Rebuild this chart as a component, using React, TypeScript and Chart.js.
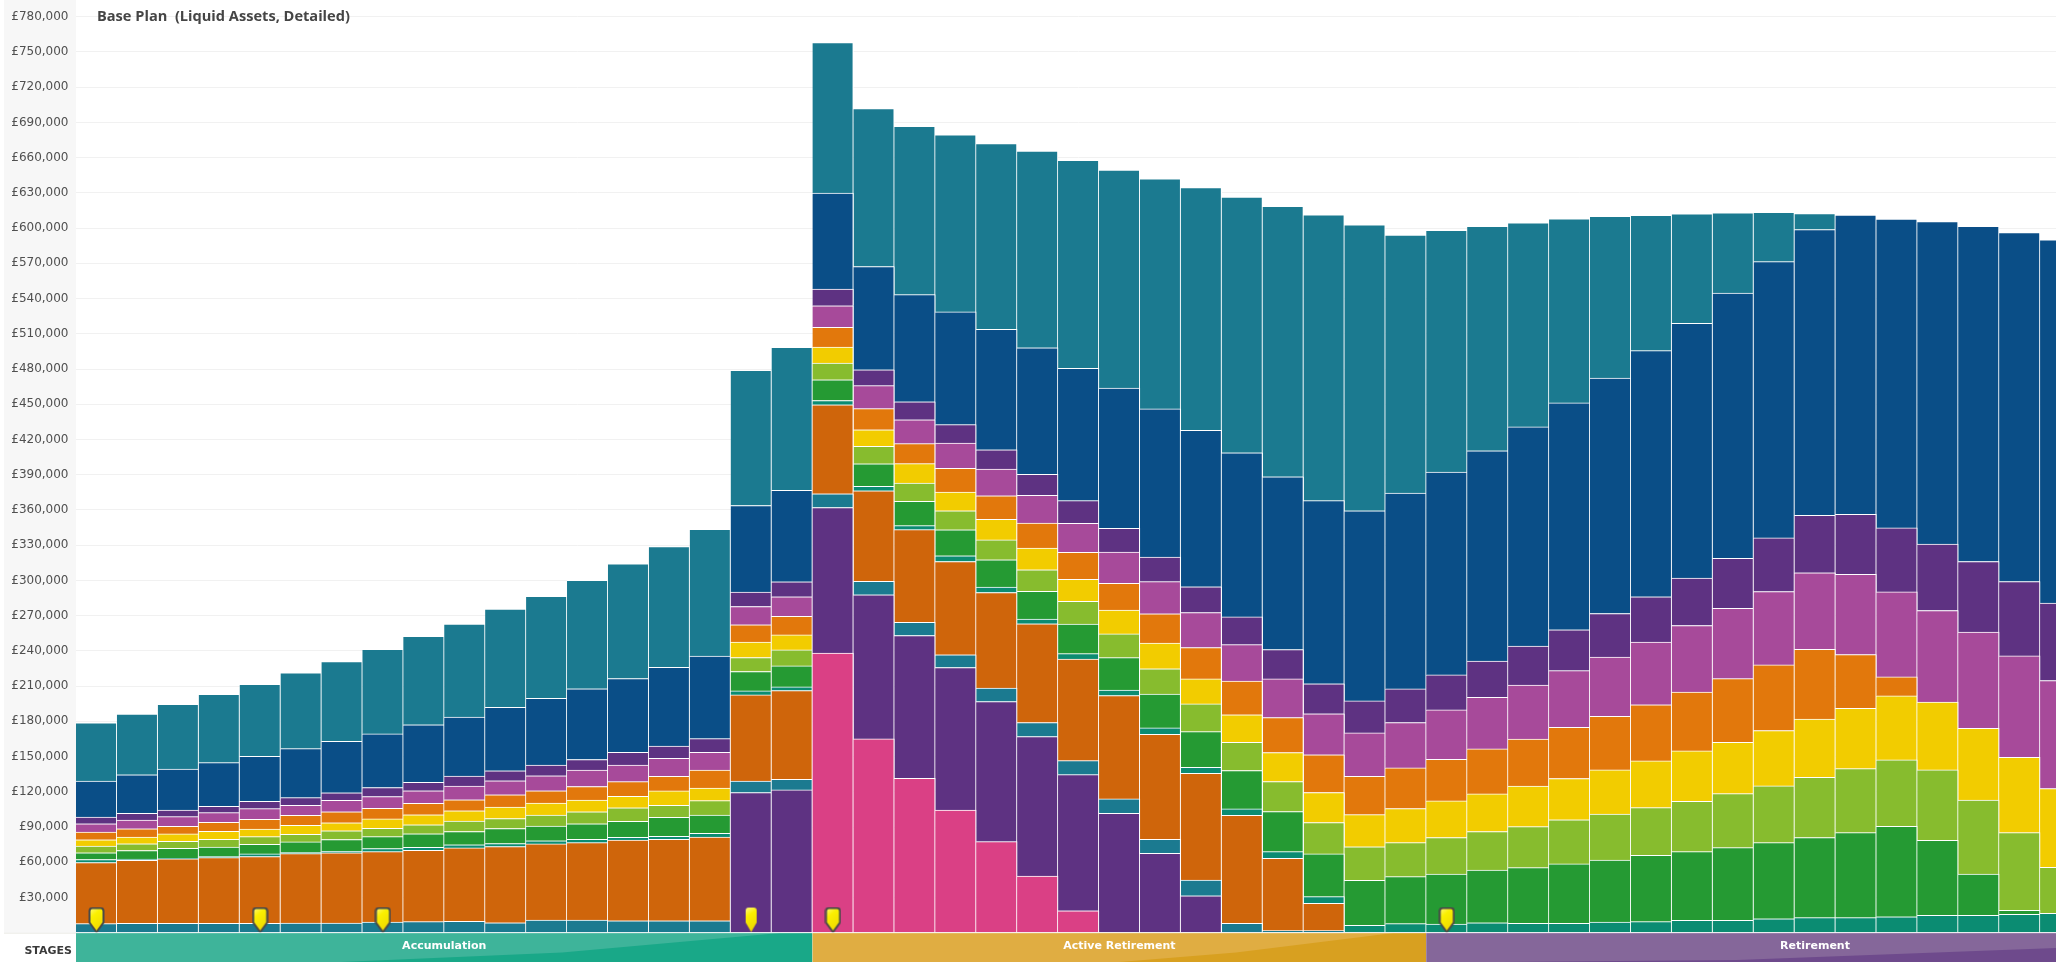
import React, { useEffect, useRef } from "react";
import { Chart, registerables } from "chart.js";

Chart.register(...registerables);

const categories = Array.from({ length: 49 }, (_, i) => String(2015 + i));

const pinkFund = [0,0,0,0,0,0,0,0,0,0,0,0,0,0,0,0,0,0,238000,165000,131500,104500,77500,48300,18700,0,0,0,0,0,0,0,0,0,0,0,0,0,0,0,0,0,0,0,0,0,0,0,0];
const purpleLower = [0,0,0,0,0,0,0,0,0,0,0,0,0,0,0,0,119300,121600,124100,122700,121600,121300,119300,118700,115900,101700,67600,31500,0,0,0,0,0,0,0,0,0,0,0,0,0,0,0,0,0,0,0,0,0];
const tealLower = [7700,8000,8000,8000,8000,8200,8200,9100,9400,9700,8500,10800,10800,10200,10200,10200,9900,9100,11600,11400,11100,10800,11400,11900,11900,12200,11900,13300,8000,1700,1700,0,0,0,0,0,0,0,0,0,0,0,0,0,0,0,0,0,0];
const burntOrange = [52000,53700,54800,55900,56800,59100,59900,59900,60800,62500,64800,64800,65900,68700,69300,71300,73300,75500,75800,77200,79000,79500,81500,84100,86600,88000,89500,90900,92000,61600,23300,0,0,0,0,0,0,0,0,0,0,0,0,0,0,0,0,0,0];
const seaGreen = [2600,900,600,900,2300,900,1100,2600,2600,2600,2600,2600,2800,2300,2600,3100,3400,3100,3700,3700,3400,4800,4500,4000,4500,4800,5400,5100,5400,5700,5700,6200,7700,7400,8500,8000,8000,9100,9400,10500,10500,11900,12800,12800,13600,14800,14800,15600,16500];
const green = [5700,7400,8500,8200,8200,9100,10200,10200,11400,11400,12800,12500,13300,13600,16200,15600,16500,17900,17600,19300,20700,22200,23300,23600,25300,27500,28700,30400,32700,34100,36400,38300,40000,42600,44900,47400,50600,52800,56500,58500,61900,64800,68200,72400,77000,63900,35200,3400,0];
const lightGreen = [5700,5700,6000,6500,6500,6500,7400,7100,7700,8800,8500,9400,10200,11600,10200,12200,11900,13600,14200,14800,15600,16200,17000,18500,19300,20200,21600,23600,23900,25600,26700,28700,29000,31000,32700,34900,37500,39200,40600,42900,46000,48300,51400,54500,56500,59900,63000,66200,39200];
const yellow = [5400,5700,6200,6800,6500,7700,6800,8000,8500,8800,9700,10200,9900,9700,12200,10800,13100,12800,13600,14200,16500,15900,17600,18500,18700,20400,21900,21300,23600,24700,25600,27300,29000,31200,32100,34600,35200,37500,39800,42900,43700,47100,49400,51400,54500,57700,61100,64200,67000];
const orange = [6500,7100,6500,7700,8200,8500,9400,9100,9700,9400,10500,10500,11600,12500,12500,15300,14800,15900,16800,17900,17000,20200,19900,21300,23000,22700,25000,26700,28700,29800,32100,32700,34600,35500,38300,40000,43500,45700,47700,50000,54200,55900,59400,45700,16200,0,0,0,0];
const magenta = [7100,7400,8200,8200,9100,8500,9700,9900,10800,11600,11900,12800,13900,14200,15300,15100,15600,16500,18500,19600,20400,21600,22700,23600,24700,26700,27300,29800,31000,32900,34900,36900,38600,42000,44000,46000,48300,50300,53400,56800,59900,62500,65300,68400,72400,78100,81800,86300,92000];
const purpleUpper = [5700,5700,5700,5400,6200,6500,6500,7700,7100,8500,8500,9100,9100,10800,10500,11600,12200,12800,14200,13600,15300,15600,16500,17900,19300,20200,21000,21900,23600,25000,25600,27300,28700,29800,30700,33200,34900,37200,38600,40300,42600,45700,48800,51100,54500,56500,60200,63300,65900];
const blue = [30700,32900,34900,37200,38300,41700,43700,45700,49100,50300,54200,56800,60200,62800,67000,70400,73800,77800,81800,87800,91200,96000,102500,107600,112700,119300,126100,133200,139700,147100,155900,161900,166700,172700,179200,186600,193100,200500,209600,217000,225800,235200,243400,254700,263000,274600,285400,297100,309300];
const tealUpper = [49700,51700,55100,58200,61300,64500,67900,72100,75300,79200,83500,86900,92300,97700,102800,107900,115000,121800,128100,134600,143400,150800,158200,167600,177200,185700,196000,206800,217800,230300,243400,243400,219800,205900,191100,173800,156800,137700,115300,93200,68400,42000,13600,0,0,0,0,0,0];

const seriesNames = ["Fund A", "Fund B", "Fund C", "Fund D", "Fund E", "Fund F", "Fund G", "Fund H", "Fund I", "Fund J", "Fund K", "Fund L", "Fund M"];
const seriesValues = [pinkFund, purpleLower, tealLower, burntOrange, seaGreen, green, lightGreen, yellow, orange, magenta, purpleUpper, blue, tealUpper];
const seriesColors = ["#DA4085", "#5E3282", "#1B7A90", "#CF650B", "#0B8C72", "#259A33", "#87BC2E", "#F2CC00", "#E2780C", "#A74A9A", "#5E3282", "#0A4E87", "#1B7A90"];

const markerBars = [0, 4, 7, 16, 18, 33];
const markerValue = 10800;

const chartTitle = "Base Plan  (Liquid Assets, Detailed)";
const stageCaption = "STAGES";
const stageNames = ["Accumulation", "Active Retirement", "Retirement"];
const stageStarts = [0, 18, 33];
const stageEnds = [18, 33, 52];
const stageSheen = ["#3EB49A", "#E0AD42", "#85679A"];
const stageBase = ["#19A888", "#D8A020", "#6E4A8C"];
const stageSheenEdge = [
  [[0.96, 0], [0.66, 0.68], [0.36, 1]],
  [[0.95, 0], [0.69, 0.68], [0.5, 1]],
  [[1.3, 0], [0.81, 0.52], [0.4, 0.93], [0.1, 1]],
];

function shield(outline: boolean): HTMLCanvasElement {
  const c = document.createElement("canvas");
  c.width = outline ? 17 : 13;
  c.height = 27;
  const g = c.getContext("2d")!;
  const w = c.width;
  const m = outline ? 1.5 : 1;
  g.beginPath();
  g.moveTo(m + 3, m);
  g.lineTo(w - m - 3, m);
  g.quadraticCurveTo(w - m, m, w - m, m + 3);
  g.lineTo(w - m, 16);
  g.lineTo(w / 2, 25.5);
  g.lineTo(m, 16);
  g.lineTo(m, m + 3);
  g.quadraticCurveTo(m, m, m + 3, m);
  g.closePath();
  const grad = g.createLinearGradient(0, 0, w, 20);
  grad.addColorStop(0, "#FFFBA0");
  grad.addColorStop(0.4, "#FBF000");
  grad.addColorStop(1, "#EFD800");
  g.fillStyle = grad;
  g.fill();
  if (outline) {
    g.lineWidth = 2;
    g.strokeStyle = "#4A4A48";
    g.stroke();
  }
  return c;
}

const decorPlugin = {
  id: "decor",
  beforeDraw(chart: any) {
    const { ctx, chartArea } = chart;
    ctx.save();
    ctx.fillStyle = "#F7F7F7";
    ctx.fillRect(4, 0, chartArea.left - 4, chartArea.bottom);
    ctx.fillStyle = "#ECECE6";
    ctx.fillRect(4, chartArea.bottom, chartArea.left - 4, 1);
    ctx.restore();
  },
  afterDraw(chart: any) {
    const { ctx, chartArea, scales } = chart;
    const x = scales.x;
    const top = chartArea.bottom;
    const bottom = chart.height;
    const step = x.getPixelForValue(1) - x.getPixelForValue(0);
    const edge = (i: number) => x.getPixelForValue(i) - step / 2;
    ctx.save();
    stageNames.forEach((name, i) => {
      const a = edge(stageStarts[i]);
      const b = edge(stageEnds[i]);
      const w = b - a;
      const h = bottom - top;
      ctx.save();
      ctx.beginPath();
      ctx.rect(a, top, w, h);
      ctx.clip();
      ctx.fillStyle = stageBase[i];
      ctx.fillRect(a, top, w, h);
      ctx.fillStyle = stageSheen[i];
      ctx.beginPath();
      ctx.moveTo(a, top);
      stageSheenEdge[i].forEach(([fx, fy]) => ctx.lineTo(a + w * fx, top + h * fy));
      ctx.lineTo(a, bottom);
      ctx.closePath();
      ctx.fill();
      ctx.restore();
      ctx.fillStyle = "#FFFFFF";
      ctx.font = "bold 11px 'DejaVu Sans'";
      ctx.textAlign = "center";
      ctx.textBaseline = "middle";
      ctx.fillText(name, (a + b) / 2, 946.5);
    });
    ctx.fillStyle = "rgba(255,255,255,0.75)";
    ctx.fillRect(chartArea.left, top - 0.5, chartArea.right - chartArea.left, 1);
    ctx.fillStyle = "#3A3A3A";
    ctx.font = "bold 11px 'DejaVu Sans'";
    ctx.textAlign = "right";
    ctx.textBaseline = "middle";
    ctx.fillText(stageCaption, 72, 951);
    ctx.fillStyle = "#454545";
    ctx.font = "bold 14.6px 'Open Sans'";
    ctx.textAlign = "left";
    ctx.fillText(chartTitle, 97, 17);
    ctx.restore();
  },
};

export default function App() {
  const ref = useRef<HTMLCanvasElement>(null);
  useEffect(() => {
    document.body.style.margin = "0";
    document.documentElement.style.overflow = "hidden";
    const withLine = shield(true);
    const plain = shield(false);
    const markerData = categories.map((_, i) => (markerBars.includes(i) ? markerValue : null));
    const markerStyles = categories.map((_, i) => (i === 16 ? plain : withLine));
    const chart = new Chart(ref.current!, {
      type: "bar",
      data: {
        labels: categories,
        datasets: [
          ...seriesValues.map((values, i) => ({
            type: "bar" as const,
            label: seriesNames[i],
            data: values,
            backgroundColor: seriesColors[i],
            borderColor: "#FFFFFF",
            borderWidth: { top: 1, right: 1.2, left: 0, bottom: 0 },
            borderSkipped: false,
            barPercentage: 1,
            categoryPercentage: 1,
            stack: "assets",
          })),
          {
            type: "line" as const,
            label: "Events",
            data: markerData as any,
            showLine: false,
            pointStyle: markerStyles as any,
            pointRadius: 12,
            stack: "events",
            order: -1,
          },
        ],
      },
      options: {
        animation: false,
        responsive: false,
        devicePixelRatio: 1,
        layout: { padding: { top: 16.7, bottom: 29.3, left: 0, right: 0 } },
        plugins: { legend: { display: false }, tooltip: { enabled: false }, title: { display: false } },
        scales: {
          x: { display: false, stacked: true },
          y: {
            stacked: true,
            min: 0,
            max: 780000,
            afterFit(scale: any) {
              scale.width = 76;
            },
            border: { display: false },
            grid: { color: "#F1F1F1", lineWidth: 1, drawTicks: false },
            ticks: {
              stepSize: 30000,
              autoSkip: false,
              padding: 7.5,
              color: "#505050",
              font: { family: "'DejaVu Sans'", size: 12 },
              callback: (v: any) => (Number(v) === 0 ? "" : "£" + Number(v).toLocaleString("en-GB")),
            },
          },
        },
      },
      plugins: [decorPlugin],
    } as any);
    return () => chart.destroy();
  }, []);
  return (
    <div style={{ width: 2056, height: 962, overflow: "hidden", position: "relative" }}>
      <canvas ref={ref} width={2094} height={962} style={{ display: "block" }} />
    </div>
  );
}
